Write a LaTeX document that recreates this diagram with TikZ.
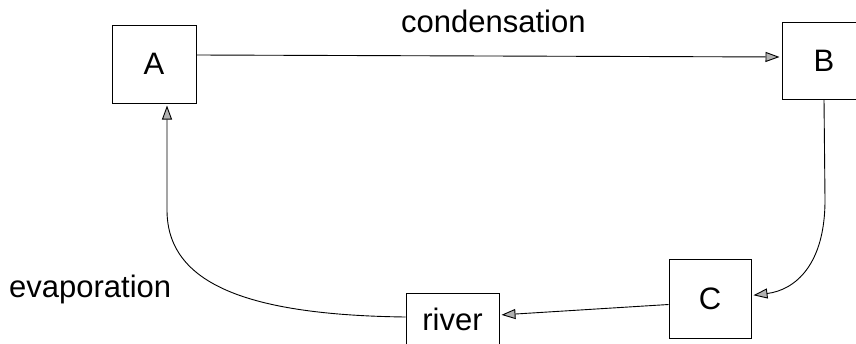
\documentclass[tikz,border=0pt]{standalone}
\usepackage{fontspec}
\setmainfont{Liberation Sans}
\usetikzlibrary{arrows.meta}
\begin{document}
\begin{tikzpicture}[x=1pt,y=1pt,
  box/.style={draw, line width=1pt, inner sep=0pt, font=\fontsize{31}{36}\selectfont},
  lbl/.style={font=\fontsize{31}{36}\selectfont, inner sep=0pt},
  flow/.style={draw, line width=0.9pt, shorten >=2pt, -{Triangle[length=14pt,width=10pt,fill=gray!60]}}]
\useasboundingbox (0,0) rectangle (856,-343);
\clip (0,0) rectangle (856,-343);
\node[box, minimum width=84, minimum height=78] (A) at (154,-64) {A};
\node[box, minimum width=84, minimum height=77] (B) at (824,-60.5) {B};
\node[box, minimum width=82, minimum height=79] (C) at (710,-298.5) {C};
\node[box, minimum width=93, minimum height=62] (river) at (452.5,-324) {\raisebox{9pt}{river}};
\node[lbl, anchor=base west] (cond) at (401,-32) {condensation};
\node[lbl, anchor=base west] (evap) at (9,-297) {evaporation};
\draw[flow] ([yshift=9]A.east) -- ([yshift=3.5]B.west);
\draw[flow] (B.south) -- (825,-200) .. controls (825,-265) and (795,-290) .. ([yshift=3]C.east);
\draw[flow] ([yshift=-6]C.west) -- ([yshift=9]river.east);
\draw[flow] ([yshift=7]river.west) .. controls (250,-315) and (167,-285) .. (167,-210) -- ([xshift=13]A.south);
\end{tikzpicture}
\end{document}
